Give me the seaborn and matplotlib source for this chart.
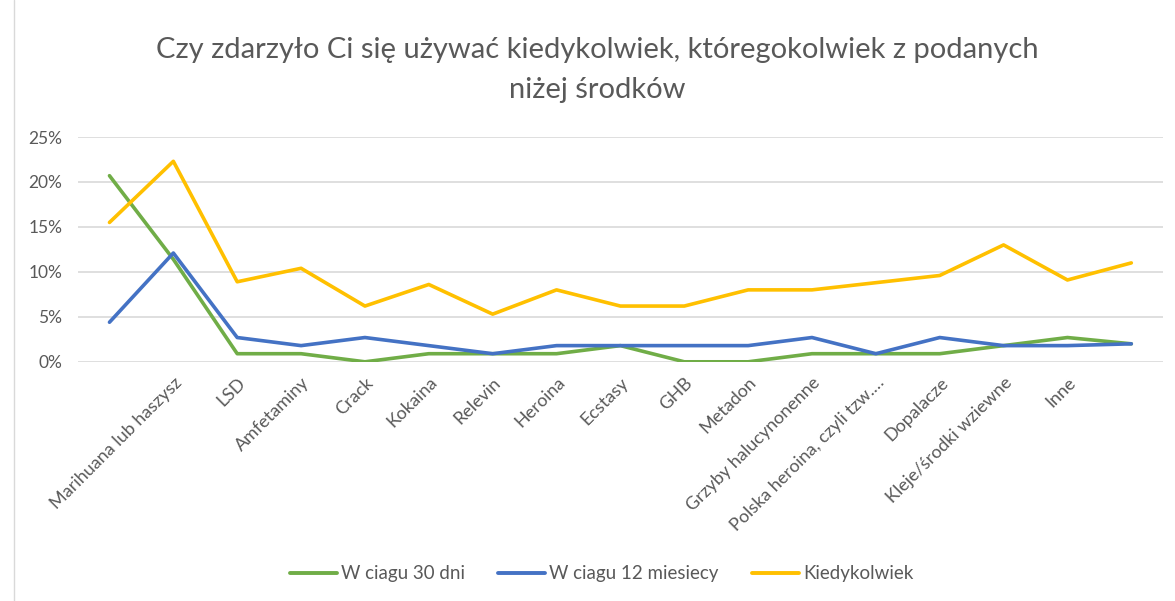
import numpy as np
import pandas as pd
import seaborn as sns
import matplotlib
matplotlib.use('Agg')
import matplotlib.pyplot as plt
from matplotlib.ticker import PercentFormatter
from matplotlib.lines import Line2D

# categories (first and last have no label on the chart)
categories = ['', 'Marihuana lub haszysz', 'LSD', 'Amfetaminy', 'Crack', 'Kokaina',
              'Relevin', 'Heroina', 'Ecstasy', 'GHB', 'Metadon',
              'Grzyby halucynonenne', 'Polska heroina, czyli tzw.…', 'Dopalacze',
              'Kleje/środki wziewne', 'Inne', '']

d30 = [20.7, 11.4, 0.9, 0.9, 0.0, 0.9, 0.9, 0.9, 1.8, 0.0, 0.0, 0.9, 0.9, 0.9, 1.8, 2.7, 2.0]
m12 = [4.4, 12.1, 2.7, 1.8, 2.7, 1.8, 0.9, 1.8, 1.8, 1.8, 1.8, 2.7, 0.9, 2.7, 1.8, 1.8, 2.0]
ever = [15.5, 22.3, 8.9, 10.4, 6.2, 8.6, 5.3, 8.0, 6.2, 6.2, 8.0, 8.0, 8.8, 9.6, 13.0, 9.1, 11.0]

series = ['W ciagu 30 dni', 'W ciagu 12 miesiecy', 'Kiedykolwiek']
colors = ['#70AD47', '#4472C4', '#FFC000']

rows = []
for name, vals in zip(series, [d30, m12, ever]):
  for i, v in enumerate(vals):
    rows.append([i, v, name])
df = pd.DataFrame(rows, columns=['pos', 'value', 'series'])

sns.set_style('white')
plt.rcParams['font.family'] = ['Lato', 'DejaVu Sans']
txt = '#595959'

fig = plt.figure(figsize=(11.75, 6.01), dpi=100)
ax = fig.add_axes([0.066, 0.398, 0.924, 0.374])

sns.lineplot(data=df, x='pos', y='value', hue='series', palette=colors,
             hue_order=series, linewidth=2.6, ax=ax, legend=False, sort=False)

ax.set_xlim(-0.5, len(categories) - 0.5)
ax.set_ylim(0, 25)
ax.set_yticks([0, 5, 10, 15, 20, 25])
ax.yaxis.set_major_formatter(PercentFormatter(decimals=0))
ax.set_xticks(range(len(categories)))
ax.set_xticklabels(categories, rotation=45, ha='right', rotation_mode='anchor',
                   fontsize=13, color=txt)
ax.tick_params(axis='y', labelsize=12.5, labelcolor=txt, length=0, pad=11)
ax.tick_params(axis='x', length=0, pad=9)
ax.grid(axis='y', color='#D9D9D9', linewidth=1.2)
ax.set_axisbelow(True)
for s in ax.spines.values():
  s.set_visible(False)
ax.set_xlabel('')
ax.set_ylabel('')

fig.text(0.508, 0.917, 'Czy zdarzyło Ci się używać kiedykolwiek, któregokolwiek z podanych',
         ha='center', va='center', fontsize=21, color=txt)
fig.text(0.508, 0.851, 'niżej środków', ha='center', va='center', fontsize=21, color=txt)

handles = [Line2D([], [], color=c, linewidth=2.8) for c in colors]
fig.legend(handles, series, loc='center', bbox_to_anchor=(0.512, 0.045), ncol=3,
           frameon=False, fontsize=13.5, handlelength=2.5, handletextpad=0.2,
           columnspacing=1.8, labelcolor=txt)

# chart border on the left
fig.add_artist(Line2D([0.012, 0.012], [0, 1], color='#D9D9D9', linewidth=1))

fig.savefig('out.png', dpi=100)
